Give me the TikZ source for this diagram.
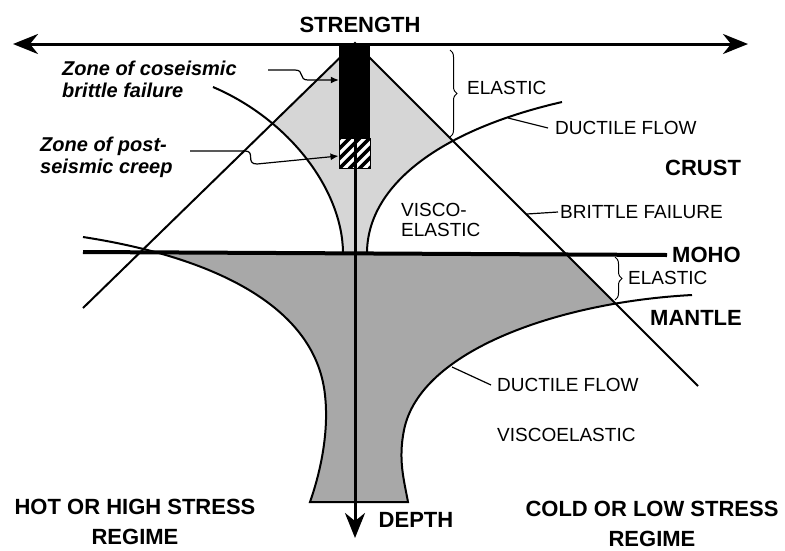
\documentclass[tikz,border=0pt]{standalone}
\usepackage{fontspec}
\setmainfont{Liberation Sans}
\usetikzlibrary{arrows.meta,decorations.pathreplacing}

\definecolor{crustgray}{gray}{0.84}
\definecolor{mantlegray}{gray}{0.66}

\begin{document}
\begin{tikzpicture}[x=1pt, y=-1pt,
	% Define the styles for labels and lines
	bold/.style={font=\fontsize{22}{30}\selectfont\bfseries, inner sep=0pt, align=center},
	plain/.style={font=\fontsize{19}{20}\selectfont, inner sep=0pt, anchor=west, align=left},
	zone/.style={font=\fontsize{20}{22}\selectfont\bfseries\itshape, inner sep=0pt, anchor=west, align=left},
	law/.style={line width=2pt},
	leader/.style={line width=1.2pt},
	axis/.style={line width=3pt},
	brace/.style={decorate, decoration={brace, amplitude=7pt}, line width=1pt},
	>={Stealth[length=25pt, width=20pt, inset=8pt]}
	]
	\useasboundingbox (0,0) rectangle (785,550);
	
	% --- POINTS ---
	\coordinate (apex) at (355,43);
	\coordinate (bfL) at (83,308);
	\coordinate (bfR) at (698,386);
	\coordinate (mohoL) at (83,252);
	
	% --- SHADED ZONES ---
	\begin{scope}
		\clip (apex) -- (bfL) -- (bfR) -- cycle;
		\clip (0,0) rectangle (785,252);
		\fill[crustgray] (213,87) .. controls (290,120) and (342,190) .. (343,252)
			-- (367,252) .. controls (368,185) and (440,130) .. (562,102)
			-- (562,30) -- (213,30) -- cycle;
	\end{scope}
	\begin{scope}
		\clip (0,252) rectangle (785,550);
		\clip (0,0) -- (312,0) -- (862,550) -- (0,550) -- cycle;
		\fill[mantlegray] (83,237) .. controls (200,255) and (315,300) .. (325,395)
			.. controls (330,440) and (316,485) .. (310,502) -- (408,502)
			.. controls (404,480) and (398,460) .. (404,430)
			.. controls (420,350) and (560,302) .. (692,295)
			-- (692,200) -- (83,200) -- cycle;
	\end{scope}
	
	% --- LABELS ---
	\node[bold] (strength) at (360,25) {STRENGTH};
	\node[bold] (depth) at (416,520) {DEPTH};
	\node[bold, anchor=west] (crust) at (665,168) {CRUST};
	\node[bold, anchor=west] (moho) at (672,255) {MOHO};
	\node[bold, anchor=west] (mantle) at (650,318) {MANTLE};
	\node[bold] (hot) at (135,522) {HOT OR HIGH STRESS\\REGIME};
	\node[bold] (cold) at (652,524) {COLD OR LOW STRESS\\REGIME};
	
	\node[plain] (elasticC) at (467,88) {ELASTIC};
	\node[plain] (ductC) at (555,128) {DUCTILE FLOW};
	\node[plain] (visco) at (401,220) {VISCO-\\ELASTIC};
	\node[plain] (brittle) at (560,212) {BRITTLE FAILURE};
	\node[plain] (elasticM) at (628,278) {ELASTIC};
	\node[plain] (ductM) at (497,385) {DUCTILE FLOW};
	\node[plain] (viscoM) at (497,435) {VISCOELASTIC};
	
	\node[zone] (cosz) at (62,79) {Zone of coseismic\\brittle failure};
	\node[zone] (postz) at (40,157) {Zone of post-\\seismic creep};
	
	% --- FLOW LAWS ---
	\draw[law] (bfL) -- (apex) -- (bfR);
	\draw[law] (213,87) .. controls (290,120) and (342,190) .. (343,252);
	\draw[law] (367,252) .. controls (368,185) and (440,130) .. (562,102);
	\draw[law] (83,237) .. controls (200,255) and (315,300) .. (325,395)
		.. controls (330,440) and (316,485) .. (310,502) -- (408,502)
		.. controls (404,480) and (398,460) .. (404,430)
		.. controls (420,350) and (560,302) .. (692,295);
	\draw[line width=4pt] (mohoL) -- ([xshift=-5pt]moho.west);
	
	% --- FAULT ZONE COLUMN ---
	\node[fill=black, inner sep=0pt, minimum width=31pt, minimum height=94pt, anchor=north] (seis) at (354.5,44) {};
	\node[draw, fill=white, line width=1pt, inner sep=0pt, minimum width=31pt, minimum height=30pt, anchor=north] (creep) at (seis.south)
		[path picture={
			\foreach \i in {-40,-30,...,40}
				\draw[line width=3.5pt] ([xshift=\i pt]path picture bounding box.south west) -- ++(45,-45);
		}] {};
	
	% --- AXES ---
	\coordinate (sL) at (13,44);
	\coordinate (sR) at (748,44);
	\coordinate (dB) at (355,538);
	\draw[axis, <->] (sL) -- (sR);
	\draw[axis, ->] (apex) -- (dB);
	
	% --- BRACES AND LEADERS ---
	\draw[brace] (450,50) -- (450,137);
	\draw[brace] (615,257) -- (615,300);
	\coordinate (ductCa) at (508,118);
	\coordinate (brita) at (527,214);
	\coordinate (ductMa) at (452,367);
	\draw[leader] (ductCa) -- ([xshift=-7pt]ductC.west);
	\draw[leader] (brita) -- ([xshift=-2pt]brittle.west);
	\draw[leader] (ductMa) -- ([xshift=-6pt]ductM.west);
	
	\coordinate (cosa) at (268,70);
	\coordinate (posta) at (190,151);
	\draw[leader, -{Latex[length=8pt, width=7pt]}] (cosa) -- (295,70) .. controls (305,70) and (298,80) .. (308,80) -- (seis.west |- 0,80);
	\draw[leader, -{Latex[length=8pt, width=7pt]}] (posta) -- (245,151) .. controls (256,151) and (245,164) .. (257,164) -- (creep.west |- 0,156);
	
\end{tikzpicture}
\end{document}
